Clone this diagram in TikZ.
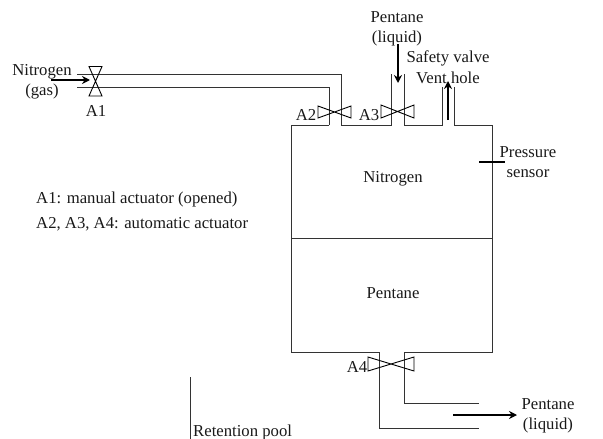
\documentclass[tikz,border=0pt]{standalone}
\usepackage{fontspec}
\setmainfont{Liberation Serif}
\usetikzlibrary{arrows.meta}
\tikzset{
  pipe/.style={draw=black!80,line width=1pt},
  valve/.style={draw=black,line width=0.9pt,fill=none},
  tick/.style={draw=black,line width=1.5pt},
  flow/.style={draw=black,line width=1.8pt,-{Stealth[length=8pt,width=8pt]}},
  lbl/.style={inner sep=0pt,yshift=-2pt,font=\fontsize{16.7}{20}\selectfont,align=center,text=black!90},
}
\begin{document}
\begin{tikzpicture}[x=1pt,y=-1pt]
\useasboundingbox (0,0) rectangle (603,439);
% tank
\draw[pipe] (329,125) -- (291,125) -- (291,352) -- (379,352) -- (379,428) -- (479,428);
\draw[pipe] (341,125) -- (391,125) -- (391,74);
\draw[pipe] (404,74) -- (404,125) -- (442,125) -- (442,87);
\draw[pipe] (454,87) -- (454,125) -- (492,125) -- (492,352) -- (404,352) -- (404,403) -- (479,403);
\draw[pipe] (291,238) -- (492,238);
\draw[tick] (479,162) -- (505,162);
% nitrogen line
\draw[pipe] (77,74) -- (341,74) -- (341,125);
\draw[pipe] (77,87) -- (329,87) -- (329,125);
\draw[pipe] (190,377) -- (190,439);
% valves
\draw[valve] (89,66.5) -- (102,66.5) -- (89,96) -- (102,96) -- cycle;
\draw[valve] (318,106) -- (351,118) -- (351,106) -- (318,118) -- cycle;
\draw[valve] (381,105) -- (414,118) -- (414,105) -- (381,118) -- cycle;
\draw[valve] (368,357) -- (414,371) -- (414,357) -- (368,371) -- cycle;
% arrows
\coordinate (n1) at (51,80); \coordinate (n2) at (90,80);
\coordinate (p1) at (398,44); \coordinate (p2) at (398,83);
\coordinate (v1) at (448,120); \coordinate (v2) at (448,81);
\coordinate (o1) at (453,415); \coordinate (o2) at (517,415);
\draw[flow] (n1) -- (n2);
\draw[flow] (p1) -- (p2);
\draw[flow] (v1) -- (v2);
\draw[flow] (o1) -- (o2);
% labels
\node[lbl] (tn) at (42,80) {Nitrogen\\(gas)};
\node[lbl] (ta1) at (96,109) {A1};
\node[lbl] (tp) at (397,27) {Pentane\\(liquid)};
\node[lbl] (ts) at (448,56) {Safety valve};
\node[lbl] (tv) at (448,76) {Vent hole};
\node[lbl] (ta2) at (306,113) {A2};
\node[lbl] (ta3) at (369,113) {A3};
\node[lbl] (ta4) at (357,365) {A4};
\node[lbl] (tps) at (528,160) {Pressure\\sensor};
\node[lbl] (tni) at (393,177) {Nitrogen};
\node[lbl] (tpe) at (393,291) {Pentane};
\node[lbl] (tpl) at (548,414) {Pentane\\(liquid)};
\node[lbl,anchor=west] (tr) at (193,430) {Retention pool};
\node[lbl,anchor=west] (k1) at (36,197) {A1: manual actuator (opened)};
\node[lbl,anchor=west] (k2) at (36,222) {A2, A3, A4: automatic actuator};
\end{tikzpicture}
\end{document}
